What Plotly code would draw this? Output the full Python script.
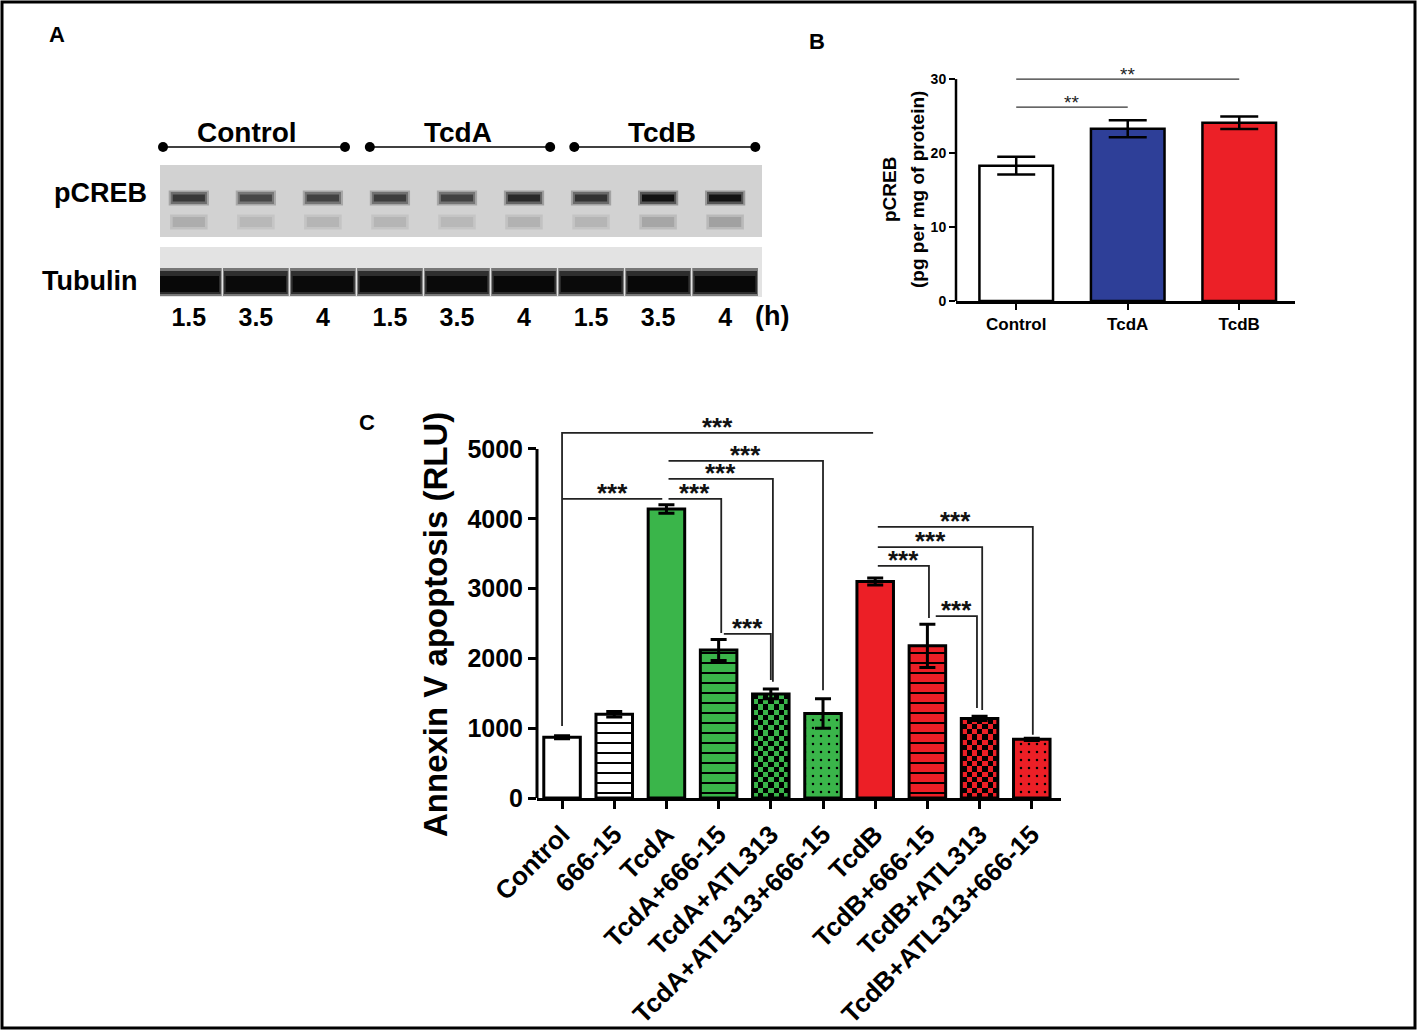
import numpy as np
import plotly.graph_objects as go

FONT = "Liberation Sans, Arial, Helvetica, sans-serif"
W, H = 1417, 1030

# ---------------- Panel A (western blot) ----------------
blot_groups = ["Control", "TcdA", "TcdB"]
blot_lane_labels = ["1.5", "3.5", "4", "1.5", "3.5", "4", "1.5", "3.5", "4"]
pcreb_upper = [0.78, 0.72, 0.74, 0.76, 0.74, 0.84, 0.80, 0.93, 0.93]   # band darkness
pcreb_lower = [0.32, 0.28, 0.29, 0.29, 0.28, 0.30, 0.29, 0.35, 0.37]
tubulin_band = [0.97, 0.96, 0.96, 0.96, 0.96, 0.97, 0.96, 0.97, 0.97]

# ---------------- Panel B ----------------
b_categories = ["Control", "TcdA", "TcdB"]
b_values = [18.3, 23.3, 24.1]
b_errors = [1.2, 1.15, 0.85]
b_colors = ["#FFFFFF", "#2E3F98", "#EC2027"]
b_ticks = [0, 10, 20, 30]
b_sig = [(0, 1, 26.2, "**"), (0, 2, 30.0, "**")]

# ---------------- Panel C ----------------
c_categories = ["Control", "666-15", "TcdA", "TcdA+666-15", "TcdA+ATL313",
                "TcdA+ATL313+666-15", "TcdB", "TcdB+666-15", "TcdB+ATL313",
                "TcdB+ATL313+666-15"]
c_values = [870, 1200, 4140, 2120, 1490, 1210, 3100, 2180, 1140, 840]
c_errors = [20, 40, 60, 150, 70, 210, 50, 310, 30, 15]
GREEN, RED = "#3AB54A", "#EC1F26"
c_colors = ["#FFFFFF", "#FFFFFF", GREEN, GREEN, GREEN, GREEN, RED, RED, RED, RED]
c_fill = ["plain", "lines", "plain", "lines", "checker", "dots",
          "plain", "lines", "checker", "dots"]
c_ticks = [0, 1000, 2000, 3000, 4000, 5000]
# (x_left, x_right, level, left drop end, right drop end, label)
c_sig = [
    (0.00, 5.96, 5230, 1030, None, "***"),
    (0.00, 1.92, 4285, None, None, "***"),
    (2.04, 3.05, 4285, None, 2365, "***"),
    (2.04, 4.04, 4570, None, 1665, "***"),
    (2.04, 5.00, 4830, None, 1545, "***"),
    (3.10, 4.00, 2350, None, 1690, "***"),
    (6.05, 7.03, 3325, None, 2580, "***"),
    (6.05, 8.05, 3595, None, 1260, "***"),
    (6.05, 9.02, 3885, None, 905, "***"),
    (7.16, 7.95, 2605, None, 1290, "***"),
]

BLOT_BG = 210


def gray(d):
    v = int(round(255 * (1 - d)))
    return f"rgb({v},{v},{v})"


def halo(d, k):
    # mix band darkness with the membrane background
    v = int(round(BLOT_BG * (1 - k) + 255 * (1 - d) * k))
    return f"rgb({v},{v},{v})"


def px_x(p):
    return p / W


def px_y(p):
    return (H - p) / H


fig = go.Figure()
lanes = list(range(len(blot_lane_labels)))


def band(y_len, base, width, colors):
    fig.add_trace(go.Bar(x=lanes, y=[y_len] * 9, base=[base] * 9, width=width,
                         marker=dict(color=colors, line_width=0),
                         xaxis="x3", yaxis="y3", hoverinfo="skip", showlegend=False))


# ---- blot bands (x3/y3 : y in image rows, reversed) ----
band(-15, 205.5, 0.6, [halo(d, 0.3) for d in pcreb_upper])
band(-12, 204, 0.54, [halo(d, 0.65) for d in pcreb_upper])
band(-7, 201.5, 0.48, [gray(d) for d in pcreb_upper])
band(-15, 229.5, 0.56, [halo(d, 0.5) for d in pcreb_lower])
band(-10, 227, 0.48, [gray(d) for d in pcreb_lower])
band(-28, 296, 0.98, [halo(d, 0.45) for d in tubulin_band])
band(-23, 294, 0.95, [gray(d * 0.85) for d in tubulin_band])
band(-16, 292, 0.9, [gray(d) for d in tubulin_band])

# group lines with end dots
gx, gy = [], []
for a, b in [(-0.385, 2.33), (2.70, 5.39), (5.75, 8.45)]:
    gx += [a, b, None]
    gy += [147, 147, None]
fig.add_trace(go.Scatter(x=gx, y=gy, mode="lines+markers", xaxis="x3", yaxis="y3",
                         line=dict(color="black", width=1.5),
                         marker=dict(color="black", size=10), cliponaxis=False,
                         hoverinfo="skip", showlegend=False))

# ---- Panel B bars ----
fig.add_trace(go.Bar(x=list(range(3)), y=b_values, width=0.66, xaxis="x2", yaxis="y2",
                     marker=dict(color=b_colors, line=dict(color="black", width=2.5)),
                     error_y=dict(type="data", array=b_errors, color="black",
                                  thickness=2.5, width=19),
                     hoverinfo="skip", showlegend=False))

# ---- Panel C bars ----
BAR_W = 0.7
n = len(c_values)
for i, (kind, v) in enumerate(zip(c_fill, c_values)):
    if kind != "checker":
        continue
    ncol = 7
    nrow = max(2, int(round(v / 76)))
    xe = np.linspace(i - BAR_W / 2, i + BAR_W / 2, ncol + 1)
    ye = np.linspace(0, v, nrow + 1)
    z = (np.add.outer(np.arange(nrow), np.arange(ncol)) % 2).astype(float)
    fig.add_trace(go.Heatmap(x=xe, y=ye, z=z, zmin=0, zmax=1, showscale=False,
                             colorscale=[[0, c_colors[i]], [1, "#000000"]],
                             xaxis="x", yaxis="y", hoverinfo="skip", zsmooth=False))

for i in range(n):
    kind = c_fill[i]
    col = "rgba(0,0,0,0)" if kind == "checker" else c_colors[i]
    marker = dict(color=col, line=dict(color="black", width=3))
    if kind == "lines":
        marker["pattern"] = dict(shape="-", fgcolor="#000000", fgopacity=1,
                                 bgcolor=col, size=10, solidity=0.2, fillmode="replace")
    elif kind == "dots":
        marker["pattern"] = dict(shape=".", fgcolor="#000000", fgopacity=1,
                                 bgcolor=col, size=8, solidity=0.08, fillmode="replace")
    fig.add_trace(go.Bar(
        x=[i], y=[c_values[i]], width=BAR_W, xaxis="x", yaxis="y", marker=marker,
        error_y=dict(type="data", array=[c_errors[i]], color="black", thickness=3, width=8),
        hoverinfo="skip", showlegend=False))

shapes = [
    # blot backgrounds
    dict(type="rect", xref="x3 domain", yref="y3", x0=0, x1=1, y0=165, y1=237,
         fillcolor=f"rgb({BLOT_BG},{BLOT_BG},{BLOT_BG})", line_width=0, layer="below"),
    dict(type="rect", xref="x3 domain", yref="y3", x0=0, x1=1, y0=247, y1=297,
         fillcolor="#e3e3e3", line_width=0, layer="below"),
    # y axis lines
    dict(type="line", xref="x domain", yref="y", x0=0, x1=0, y0=0, y1=5000,
         line=dict(color="black", width=3)),
    dict(type="line", xref="x2 domain", yref="y2", x0=0, x1=0, y0=0, y1=30,
         line=dict(color="black", width=2.5)),
    # outer frame
    dict(type="rect", xref="paper", yref="paper", x0=px_x(2), x1=px_x(1415),
         y0=px_y(1028), y1=px_y(2), line=dict(color="black", width=3)),
]

annotations = []
for xl, xr, lvl, ld, rd, lab in c_sig:
    path = f"M {xl},{ld} L {xl},{lvl} " if ld is not None else f"M {xl},{lvl} "
    path += f"L {xr},{lvl} "
    if rd is not None:
        path += f"L {xr},{rd}"
    shapes.append(dict(type="path", xref="x", yref="y", path=path,
                       line=dict(color="#222222", width=1.8)))
    annotations.append(dict(x=(xl + xr) / 2, y=lvl, xref="x", yref="y", text=lab,
                            showarrow=False, yanchor="bottom", yshift=-11,
                            font=dict(family=FONT, size=26, color="#111111",
                                      weight="bold")))

for i0, i1, lvl, lab in b_sig:
    shapes.append(dict(type="line", xref="x2", yref="y2", x0=i0, x1=i1, y0=lvl, y1=lvl,
                       line=dict(color="#333333", width=1.2)))
    annotations.append(dict(x=(i0 + i1) / 2, y=lvl, xref="x2", yref="y2", text=lab,
                            showarrow=False, yanchor="bottom", yshift=-8,
                            font=dict(family=FONT, size=19, color="#222222")))

# panel letters
for t, x, y in [("A", 57, 35), ("B", 817, 42), ("C", 367, 422)]:
    annotations.append(dict(x=px_x(x), y=px_y(y), xref="paper", yref="paper", text=t,
                            showarrow=False, xanchor="center", yanchor="middle",
                            font=dict(family=FONT, size=22, color="black", weight="bold")))

# blot labels
for t, x in zip(blot_groups, [0.87, 4.02, 7.06]):
    annotations.append(dict(x=x, y=133, xref="x3", yref="y3", text=t, showarrow=False,
                            xanchor="center", yanchor="middle",
                            font=dict(family=FONT, size=28, color="black", weight="bold")))
for t, x, y in [("pCREB", 100, 193), ("Tubulin", 89, 281), ("(h)", 772, 316)]:
    annotations.append(dict(x=px_x(x), y=px_y(y), xref="paper", yref="paper", text=t,
                            showarrow=False, xanchor="center", yanchor="middle",
                            font=dict(family=FONT, size=27, color="black", weight="bold")))

# axis titles
annotations.append(dict(x=px_x(435), y=px_y(625), xref="paper", yref="paper",
                        text="Annexin V apoptosis (RLU)", textangle=-90, showarrow=False,
                        xanchor="center", yanchor="middle",
                        font=dict(family=FONT, size=33, color="black", weight="bold")))
annotations.append(dict(x=px_x(889), y=px_y(190), xref="paper", yref="paper",
                        text="pCREB", textangle=-90, showarrow=False,
                        xanchor="center", yanchor="middle",
                        font=dict(family=FONT, size=19, color="black", weight="bold")))
annotations.append(dict(x=px_x(917), y=px_y(190), xref="paper", yref="paper",
                        text="(pg per mg of protein)", textangle=-90, showarrow=False,
                        xanchor="center", yanchor="middle",
                        font=dict(family=FONT, size=19, color="black", weight="bold")))

tickfont_cx = dict(family=FONT, size=26, color="black", weight="bold")
tickfont_cy = dict(family=FONT, size=25, color="black", weight="bold")
tickfont_b = dict(family=FONT, size=14, color="black", weight="bold")

fig.update_layout(
    width=W, height=H, margin=dict(l=0, r=0, t=0, b=0, pad=0, autoexpand=False),
    paper_bgcolor="white", plot_bgcolor="rgba(0,0,0,0)",
    barmode="overlay", showlegend=False,
    font=dict(family=FONT, color="black"),
    shapes=shapes, annotations=annotations,
    # Panel C
    xaxis=dict(domain=[px_x(537), px_x(1061)], range=[-0.48, 9.56], anchor="y",
               tickvals=list(range(n)), ticktext=c_categories, automargin=False,
               tickangle=-45, tickfont=tickfont_cx, ticks="outside", ticklen=8,
               tickwidth=3, tickcolor="black", showline=True, linewidth=3,
               linecolor="black", showgrid=False, zeroline=False),
    yaxis=dict(domain=[px_y(798), px_y(428)], range=[0, 5300], anchor="x",
               tickvals=c_ticks, tickfont=tickfont_cy, ticks="outside", ticklen=8,
               tickwidth=3, tickcolor="black", showline=False, showgrid=False,
               zeroline=False, automargin=False),
    # Panel B
    xaxis2=dict(domain=[px_x(956), px_x(1295)], range=[-0.54, 2.5], anchor="y2",
                tickvals=[0, 1, 2], ticktext=b_categories, automargin=False,
                tickfont=dict(family=FONT, size=17, color="black", weight="bold"),
                ticks="outside", ticklen=6, tickwidth=2, tickcolor="black",
                showline=True, linewidth=2.5, linecolor="black", showgrid=False,
                zeroline=False),
    yaxis2=dict(domain=[px_y(301), px_y(68)], range=[0, 31.5], anchor="x2",
                tickvals=b_ticks, tickfont=tickfont_b, ticks="outside", ticklen=6,
                tickwidth=2, tickcolor="black", showline=False, showgrid=False,
                zeroline=False, automargin=False),
    # Panel A blot
    xaxis3=dict(domain=[px_x(160), px_x(762)], range=[-0.43, 8.55], anchor="y3",
                tickvals=lanes, ticktext=blot_lane_labels, ticks="", automargin=False,
                tickfont=dict(family=FONT, size=25, color="black", weight="bold"),
                showline=False, showgrid=False, zeroline=False),
    yaxis3=dict(domain=[px_y(300), px_y(120)], range=[300, 120], anchor="x3",
                visible=False, showgrid=False, zeroline=False, automargin=False),
)

fig.write_html("out.html", config={"displayModeBar": False},
               post_script="document.body.style.margin='0';")
